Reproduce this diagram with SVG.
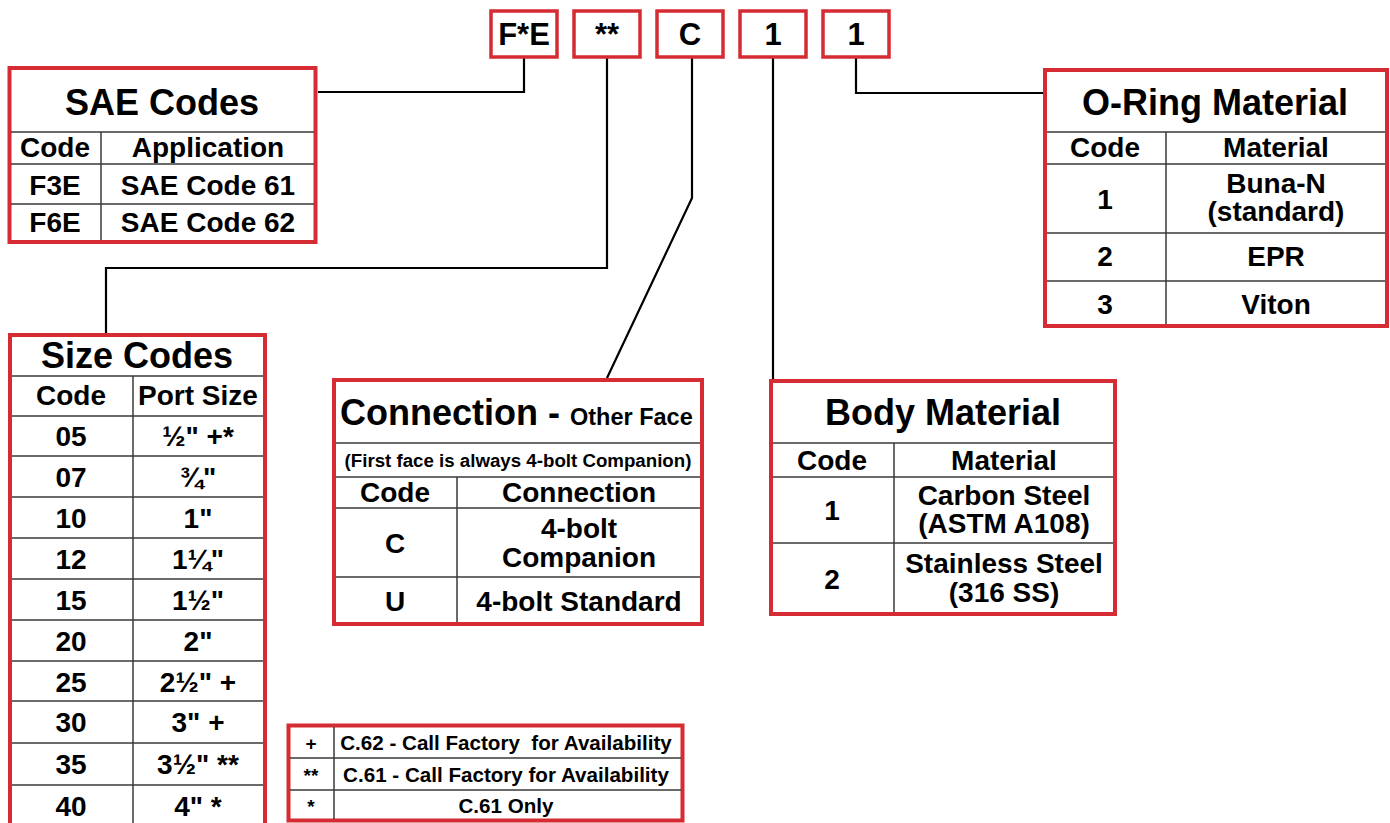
<svg xmlns="http://www.w3.org/2000/svg" width="1390" height="823" viewBox="0 0 1390 823">
<style>
text{font-family:"Liberation Sans",Arial,sans-serif;font-weight:bold;fill:#000;text-anchor:middle}
.frame{fill:#fff;stroke:#d52b32;stroke-width:4}
.cbox{fill:#fff;stroke:#d52b32;stroke-width:3.5}
.grid{stroke:#3a3a3a;stroke-width:1.5;fill:none}
.conn{stroke:#000;stroke-width:2.2;fill:none}
.t36{font-size:36px}
.t28{font-size:28px}
.t30{font-size:31px}
.t20{font-size:20.6px}
.t18{font-size:19px}
</style>
<rect width="1390" height="823" fill="#fff"/>

<g id="connectors">
<path class="conn" d="M524,57 V92 H318"/>
<path class="conn" d="M607,57 V268 H106 V333"/>
<path class="conn" d="M692,57 V198 L607,378"/>
<path class="conn" d="M773,57 V379"/>
<path class="conn" d="M856,57 V93 H1043"/>
</g>

<g id="code-boxes">
<g id="code-fe"><rect class="cbox" x="491" y="11" width="66" height="46"/><text class="t30" x="524" y="45">F*E</text></g>
<g id="code-size"><rect class="cbox" x="574" y="11" width="66" height="46"/><text class="t30" x="607" y="45">**</text></g>
<g id="code-conn"><rect class="cbox" x="657" y="11" width="66" height="46"/><text class="t30" x="690" y="45">C</text></g>
<g id="code-body"><rect class="cbox" x="740" y="11" width="66" height="46"/><text class="t30" x="773" y="45">1</text></g>
<g id="code-oring"><rect class="cbox" x="823" y="11" width="66" height="46"/><text class="t30" x="856" y="45">1</text></g>
</g>

<g id="sae-codes">
<rect class="frame" x="9.5" y="68" width="306" height="174"/>
<path class="grid" d="M11,132 H314 M11,164 H314 M11,204 H314 M101,132 V240"/>
<text class="t36" x="162" y="115">SAE Codes</text>
<text class="t28" x="55" y="157">Code</text>
<text class="t28" x="208" y="157">Application</text>
<text class="t28" x="55" y="195">F3E</text>
<text class="t28" x="208" y="195">SAE Code 61</text>
<text class="t28" x="55" y="232">F6E</text>
<text class="t28" x="208" y="232">SAE Code 62</text>
</g>

<g id="size-codes">
<rect class="frame" x="10" y="335" width="255" height="520"/>
<path class="grid" d="M12,376 H263 M12,416 H263 M12,456 H263 M12,497 H263 M12,538 H263 M12,579 H263 M12,620 H263 M12,661 H263 M12,701 H263 M12,743 H263 M12,785 H263 M133,376 V823"/>
<text class="t36" x="137" y="368">Size Codes</text>
<text class="t28" x="71" y="405">Code</text>
<text class="t28" x="198" y="405">Port Size</text>
<text class="t28" x="71" y="446">05</text><text class="t28" x="198" y="446">½" +*</text>
<text class="t28" x="71" y="487">07</text><text class="t28" x="198" y="487">¾"</text>
<text class="t28" x="71" y="528">10</text><text class="t28" x="198" y="528">1"</text>
<text class="t28" x="71" y="569">12</text><text class="t28" x="198" y="569">1¼"</text>
<text class="t28" x="71" y="610">15</text><text class="t28" x="198" y="610">1½"</text>
<text class="t28" x="71" y="651">20</text><text class="t28" x="198" y="651">2"</text>
<text class="t28" x="71" y="692">25</text><text class="t28" x="198" y="692">2½" +</text>
<text class="t28" x="71" y="732">30</text><text class="t28" x="198" y="732">3" +</text>
<text class="t28" x="71" y="774">35</text><text class="t28" x="198" y="774">3½" **</text>
<text class="t28" x="71" y="816">40</text><text class="t28" x="198" y="816">4" *</text>
</g>

<g id="connection">
<rect class="frame" x="334" y="380" width="368" height="244"/>
<path class="grid" d="M336,443 H700 M336,477 H700 M336,508 H700 M336,577 H700 M457,477 V622"/>
<text class="t36" x="340" y="425" style="text-anchor:start">Connection - <tspan style="font-size:23.5px">Other Face</tspan></text>
<text style="font-size:18.7px" x="518" y="467">(First face is always 4-bolt Companion)</text>
<text class="t28" x="395" y="502">Code</text>
<text class="t28" x="579" y="502">Connection</text>
<text class="t28" x="395" y="553">C</text>
<text class="t28" x="579" y="538">4-bolt</text>
<text class="t28" x="579" y="567">Companion</text>
<text class="t28" x="395" y="611">U</text>
<text class="t28" x="579" y="611">4-bolt Standard</text>
</g>

<g id="body-material">
<rect class="frame" x="771" y="381" width="344" height="233"/>
<path class="grid" d="M773,443 H1113 M773,477 H1113 M773,543 H1113 M894,443 V612"/>
<text class="t36" x="943" y="425">Body Material</text>
<text class="t28" x="832" y="470">Code</text>
<text class="t28" x="1004" y="470">Material</text>
<text class="t28" x="832" y="520">1</text>
<text class="t28" x="1004" y="505">Carbon Steel</text>
<text class="t28" x="1004" y="533">(ASTM A108)</text>
<text class="t28" x="832" y="589">2</text>
<text class="t28" x="1004" y="573">Stainless Steel</text>
<text class="t28" x="1004" y="602">(316 SS)</text>
</g>

<g id="oring-material">
<rect class="frame" x="1045" y="70" width="342" height="256"/>
<path class="grid" d="M1047,132 H1385 M1047,164 H1385 M1047,233 H1385 M1047,281 H1385 M1166,132 V324"/>
<text class="t36" x="1215" y="115">O-Ring Material</text>
<text class="t28" x="1105" y="157">Code</text>
<text class="t28" x="1276" y="157">Material</text>
<text class="t28" x="1105" y="209">1</text>
<text class="t28" x="1276" y="193">Buna-N</text>
<text class="t28" x="1276" y="221">(standard)</text>
<text class="t28" x="1105" y="266">2</text>
<text class="t28" x="1276" y="266">EPR</text>
<text class="t28" x="1105" y="314">3</text>
<text class="t28" x="1276" y="314">Viton</text>
</g>

<g id="footnotes">
<rect class="frame" x="288.5" y="725.5" width="394" height="95"/>
<path class="grid" d="M290,758 H681 M290,790 H681 M334,727 V819"/>
<text class="t18" x="311" y="750">+</text>
<text class="t20" x="506" y="750" xml:space="preserve">C.62 - Call Factory  for Availability</text>
<text class="t18" x="311" y="782">**</text>
<text class="t20" x="506" y="782">C.61 - Call Factory for Availability</text>
<text class="t18" x="311" y="813">*</text>
<text class="t20" x="506" y="813">C.61 Only</text>
</g>
</svg>
